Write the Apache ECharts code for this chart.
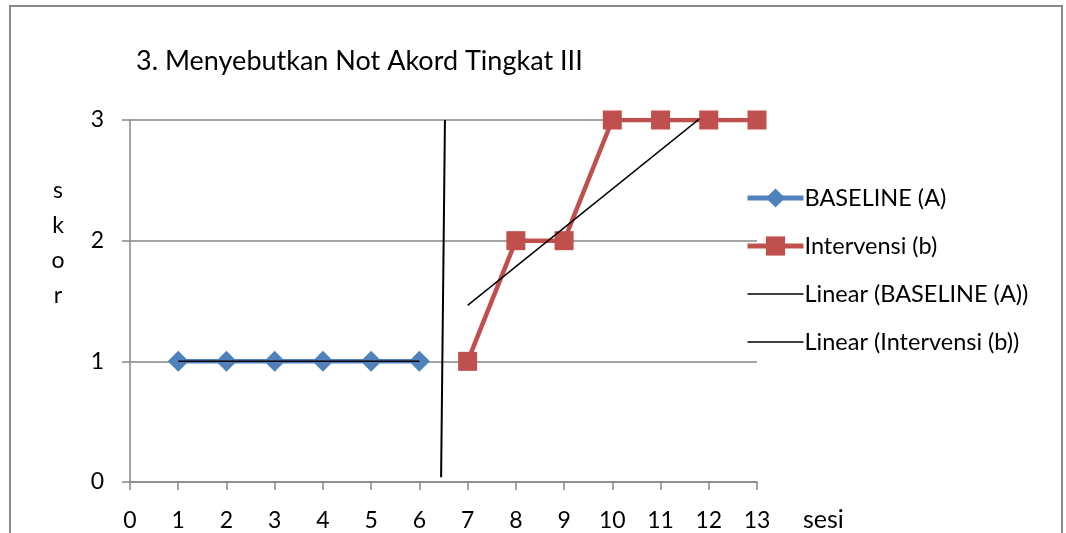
<!DOCTYPE html>
<html>
<head>
<meta charset="utf-8">
<script src="https://cdn.jsdelivr.net/npm/echarts@6/dist/echarts.min.js"></script>
<style>
  html, body { margin: 0; padding: 0; background: #fff; }
  #chart { width: 1066px; height: 533px; }
</style>
</head>
<body>
<div id="chart"></div>
<script>
// Sessions and scores for each phase
const sesiBaseline = [1, 2, 3, 4, 5, 6];
const skorBaseline = [1, 1, 1, 1, 1, 1];
const sesiIntervensi = [7, 8, 9, 10, 11, 12, 13];
const skorIntervensi = [1, 2, 2, 3, 3, 3, 3];

// Phase-change divider (hand-drawn line between A and B)
const dividerX = [6.45, 6.53];
const dividerY = [0.04, 3];

const seriesNames = ['BASELINE (A)', 'Intervensi (b)', 'Linear (BASELINE (A))', 'Linear (Intervensi (b))'];
const xTicks = [0, 13];
const yTicks = [0, 3];

// Least-squares trend line over a series' own sessions
function linearTrend(xs, ys) {
  const n = xs.length;
  const mx = xs.reduce((a, b) => a + b, 0) / n;
  const my = ys.reduce((a, b) => a + b, 0) / n;
  let sxy = 0, sxx = 0;
  for (let i = 0; i < n; i++) {
    sxy += (xs[i] - mx) * (ys[i] - my);
    sxx += (xs[i] - mx) * (xs[i] - mx);
  }
  const slope = sxx ? sxy / sxx : 0;
  const x0 = xs[0], x1 = xs[n - 1];
  return [[x0, my + slope * (x0 - mx)], [x1, my + slope * (x1 - mx)]];
}

const pairs = (xs, ys) => xs.map((x, i) => [x, ys[i]]);

const FONT = 'Lato, "Open Sans", sans-serif';
const AXIS_GRAY = '#868686';
const BLUE = '#4F81BD';
const RED = '#C0504D';

const chart = echarts.init(document.getElementById('chart'), null, { renderer: 'canvas' });

chart.setOption({
  animation: false,
  backgroundColor: '#ffffff',
  textStyle: { fontFamily: FONT, color: '#000' },
  title: {
    text: '3. Menyebutkan Not Akord Tingkat III',
    left: 131,
    top: 43,
    textStyle: { fontFamily: FONT, fontSize: 27, fontWeight: 'normal', color: '#000' }
  },
  grid: { left: 130, right: 309, top: 120, bottom: 51, containLabel: false },
  legend: {
    orient: 'vertical',
    left: 745,
    top: 186,
    padding: 0,
    itemWidth: 56,
    itemHeight: 24,
    itemGap: 24,
    textStyle: { fontFamily: FONT, fontSize: 23.5, color: '#000', padding: [0, 0, 0, -4] },
    data: [
      { name: seriesNames[0], lineStyle: { width: 5 } },
      { name: seriesNames[1], lineStyle: { width: 5 } },
      { name: seriesNames[2], itemStyle: { opacity: 0 }, lineStyle: { width: 1.5 } },
      { name: seriesNames[3], itemStyle: { opacity: 0 }, lineStyle: { width: 1.5 } }
    ]
  },
  xAxis: {
    type: 'value',
    min: xTicks[0],
    max: xTicks[1],
    interval: 1,
    axisLine: { show: true, onZero: false, lineStyle: { color: AXIS_GRAY, width: 1.5 } },
    axisTick: { show: true, length: 8, lineStyle: { color: AXIS_GRAY, width: 1.5 } },
    axisLabel: { fontFamily: FONT, fontSize: 23, color: '#000', margin: 27 },
    splitLine: { show: false }
  },
  yAxis: {
    type: 'value',
    min: yTicks[0],
    max: yTicks[1],
    interval: 1,
    axisLine: { show: true, lineStyle: { color: AXIS_GRAY, width: 1.5 } },
    axisTick: { show: true, length: 8, lineStyle: { color: AXIS_GRAY, width: 1.5 } },
    axisLabel: { fontFamily: FONT, fontSize: 23, color: '#000', margin: 26 },
    splitLine: { show: true, lineStyle: { color: AXIS_GRAY, width: 1.5 } }
  },
  graphic: [
    {
      type: 'rect',
      shape: { x: 10, y: 6, width: 1052, height: 560 },
      style: { fill: 'none', stroke: '#898989', lineWidth: 2 },
      silent: true
    },
    {
      type: 'text',
      x: 58,
      y: 173,
      style: { text: 's\nk\no\nr', font: '23px ' + FONT, fill: '#000', lineHeight: 35, align: 'center' }
    },
    {
      type: 'text',
      x: 803,
      y: 507,
      style: { text: 'sesi', font: '25px ' + FONT, fill: '#000' }
    }
  ],
  series: [
    {
      name: seriesNames[0],
      type: 'line',
      data: pairs(sesiBaseline, skorBaseline),
      symbol: 'diamond',
      symbolSize: 21,
      itemStyle: { color: BLUE },
      lineStyle: { color: BLUE, width: 4.5 },
      z: 3
    },
    {
      name: seriesNames[1],
      type: 'line',
      data: pairs(sesiIntervensi, skorIntervensi),
      symbol: 'rect',
      symbolSize: 19,
      itemStyle: { color: RED },
      lineStyle: { color: RED, width: 4.5 },
      z: 3
    },
    {
      name: seriesNames[2],
      type: 'line',
      data: linearTrend(sesiBaseline, skorBaseline),
      symbol: 'none',
      lineStyle: { color: '#000', width: 1.5 },
      itemStyle: { color: '#000' },
      z: 4
    },
    {
      name: seriesNames[3],
      type: 'line',
      data: linearTrend(sesiIntervensi, skorIntervensi),
      symbol: 'none',
      clip: true,
      lineStyle: { color: '#000', width: 1.5 },
      itemStyle: { color: '#000' },
      z: 4
    },
    {
      name: 'divider',
      type: 'line',
      data: pairs(dividerX, dividerY),
      symbol: 'none',
      lineStyle: { color: '#000', width: 2 },
      z: 4
    }
  ]
});
</script>
</body>
</html>
